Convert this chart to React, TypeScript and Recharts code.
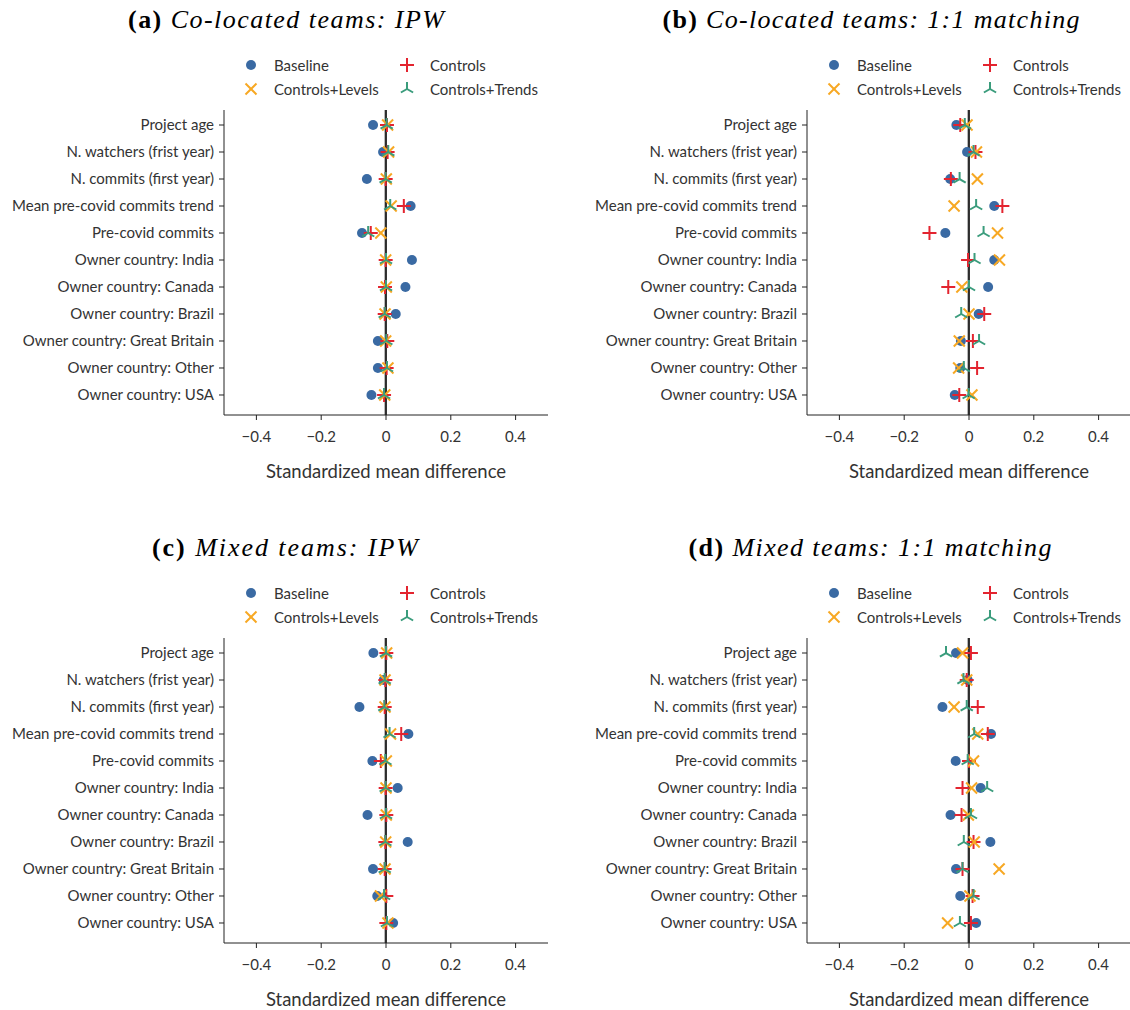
import React from 'react';
import { ScatterChart, Scatter, XAxis, YAxis, ReferenceLine } from 'recharts';

const CATEGORIES = [
  'Project age',
  'N. watchers (frist year)',
  'N. commits (first year)',
  'Mean pre-covid commits trend',
  'Pre-covid commits',
  'Owner country: India',
  'Owner country: Canada',
  'Owner country: Brazil',
  'Owner country: Great Britain',
  'Owner country: Other',
  'Owner country: USA',
];

const X_TICKS = [-0.4, -0.2, 0, 0.2, 0.4];
const SERIES_NAMES = ['Baseline', 'Controls', 'Controls+Levels', 'Controls+Trends'];

const A_BASELINE = [-0.040, -0.009, -0.059, 0.076, -0.074, 0.080, 0.060, 0.030, -0.025, -0.025, -0.045];
const A_CONTROLS = [0.003, 0.005, -0.001, 0.055, -0.047, -0.001, -0.003, -0.004, 0.004, 0.002, -0.006];
const A_LEVELS = [0.005, 0.008, 0.001, 0.016, -0.016, -0.001, 0.001, -0.003, -0.001, 0.006, -0.004];
const A_TRENDS = [0.002, 0.007, -0.001, 0.013, -0.055, 0.0, 0.0, -0.004, 0.001, 0.003, -0.006];

const B_BASELINE = [-0.039, -0.006, -0.058, 0.078, -0.073, 0.078, 0.059, 0.030, -0.025, -0.027, -0.044];
const B_CONTROLS = [-0.027, 0.020, -0.056, 0.103, -0.122, -0.003, -0.064, 0.047, 0.012, 0.025, -0.030];
const B_LEVELS = [-0.006, 0.023, 0.026, -0.046, 0.088, 0.094, -0.022, 0.000, -0.030, -0.032, 0.009];
const B_TRENDS = [-0.013, 0.014, -0.029, 0.022, 0.045, 0.017, 0.000, -0.024, 0.031, -0.016, -0.001];

const C_BASELINE = [-0.039, -0.007, -0.082, 0.069, -0.042, 0.036, -0.057, 0.067, -0.040, -0.027, 0.022];
const C_CONTROLS = [0.001, -0.002, -0.004, 0.047, -0.016, -0.001, 0.001, -0.002, -0.004, 0.001, 0.001];
const C_LEVELS = [0.002, -0.003, -0.003, 0.014, 0.001, 0.0, 0.001, -0.001, -0.003, -0.017, 0.006];
const C_TRENDS = [0.0, -0.004, -0.005, 0.011, -0.002, -0.001, 0.0, -0.002, -0.004, -0.006, 0.003];

const D_BASELINE = [-0.040, -0.004, -0.082, 0.068, -0.041, 0.036, -0.057, 0.066, -0.040, -0.027, 0.022];
const D_CONTROLS = [0.006, -0.007, 0.027, 0.058, 0.0, -0.020, -0.023, 0.014, -0.020, 0.011, 0.006];
const D_LEVELS = [-0.020, -0.007, -0.046, 0.027, 0.014, 0.008, -0.002, 0.016, 0.093, 0.003, -0.066];
const D_TRENDS = [-0.071, -0.017, -0.007, 0.016, -0.004, 0.056, 0.006, -0.016, -0.020, 0.014, -0.028];

const COLORS = {
  baseline: '#3a6aa3',
  controls: '#e3242f',
  levels: '#f7a823',
  trends: '#3a9c7c',
};

const FONT = 'Lato, "Noto Sans", sans-serif';
const TEXT = '#333333';
const AXIS = '#222222';

const toPoints = (vals: number[]) => vals.map((v, i) => ({ x: v, y: i }));

const Dot = (p: any) => <circle cx={p.cx} cy={p.cy} r={5} fill={COLORS.baseline} />;
const Plus = (p: any) => (
  <g stroke={COLORS.controls} strokeWidth={2}>
    <line x1={p.cx - 7} y1={p.cy} x2={p.cx + 7} y2={p.cy} />
    <line x1={p.cx} y1={p.cy - 7} x2={p.cx} y2={p.cy + 7} />
  </g>
);
const Cross = (p: any) => (
  <g stroke={COLORS.levels} strokeWidth={2}>
    <line x1={p.cx - 5.5} y1={p.cy - 5.5} x2={p.cx + 5.5} y2={p.cy + 5.5} />
    <line x1={p.cx - 5.5} y1={p.cy + 5.5} x2={p.cx + 5.5} y2={p.cy - 5.5} />
  </g>
);
const Tri = (p: any) => (
  <g stroke={COLORS.trends} strokeWidth={2}>
    <line x1={p.cx} y1={p.cy} x2={p.cx} y2={p.cy - 7} />
    <line x1={p.cx} y1={p.cy} x2={p.cx - 6.1} y2={p.cy + 3.5} />
    <line x1={p.cx} y1={p.cy} x2={p.cx + 6.1} y2={p.cy + 3.5} />
  </g>
);

const fmtX = (v: number) => (v === 0 ? '0' : v.toFixed(1).replace('-', '\u2212'));

type PanelProps = {
  left: number;
  top: number;
  width: number;
  marginRight: number;
  baseline: number[];
  controls: number[];
  levels: number[];
  trends: number[];
};

const Panel = ({ left, top, width, marginRight, baseline, controls, levels, trends }: PanelProps) => (
  <div style={{ position: 'absolute', left, top }}>
    <ScatterChart width={width} height={390} margin={{ top: 10, right: marginRight, bottom: 5, left: 10 }}>
      <XAxis
        type="number"
        dataKey="x"
        domain={[-0.5, 0.5]}
        ticks={X_TICKS}
        tickFormatter={fmtX}
        allowDataOverflow
        height={70}
        tickSize={5}
        tickMargin={11}
        stroke={AXIS}
        tick={{ fill: TEXT, fontSize: 15, fontFamily: FONT }}
        label={{ value: 'Standardized mean difference', position: 'insideBottom', offset: 7, fill: TEXT, fontSize: 18.5, fontFamily: FONT }}
      />
      <YAxis
        type="number"
        dataKey="y"
        domain={[-0.556, 10.741]}
        reversed
        allowDataOverflow
        ticks={CATEGORIES.map((_, i) => i)}
        tickFormatter={(v: number) => CATEGORIES[v] ?? ''}
        width={214}
        tickSize={5}
        tickMargin={5}
        interval={0}
        stroke={AXIS}
        tick={{ fill: TEXT, fontSize: 15, fontFamily: FONT }}
      />
      <ReferenceLine x={-0.002} stroke="#b0b0b0" strokeWidth={2.5} />
      <ReferenceLine x={0} stroke="#000000" strokeWidth={1.5} />
      <Scatter name={SERIES_NAMES[0]} data={toPoints(baseline)} shape={Dot} isAnimationActive={false} />
      <Scatter name={SERIES_NAMES[1]} data={toPoints(controls)} shape={Plus} isAnimationActive={false} />
      <Scatter name={SERIES_NAMES[2]} data={toPoints(levels)} shape={Cross} isAnimationActive={false} />
      <Scatter name={SERIES_NAMES[3]} data={toPoints(trends)} shape={Tri} isAnimationActive={false} />
    </ScatterChart>
  </div>
);

const LegendBox = ({ plotLeft, top }: { plotLeft: number; top: number }) => {
  const items = [
    { name: SERIES_NAMES[0], Shape: Dot, dx: 27, dy: 0 },
    { name: SERIES_NAMES[1], Shape: Plus, dx: 183, dy: 0 },
    { name: SERIES_NAMES[2], Shape: Cross, dx: 27, dy: 24 },
    { name: SERIES_NAMES[3], Shape: Tri, dx: 183, dy: 24 },
  ];
  return (
    <svg style={{ position: 'absolute', left: plotLeft, top: top - 14 }} width={330} height={54}>
      {items.map(({ name, Shape, dx, dy }) => (
        <g key={name}>
          <Shape cx={dx} cy={14 + dy} />
          <text x={dx + 23} y={14 + dy} dominantBaseline="central" fill={TEXT} fontSize={15} fontFamily={FONT}>
            {name}
          </text>
        </g>
      ))}
    </svg>
  );
};

const Title = ({ cx, y, tag, text, w }: { cx: number; y: number; tag: string; text: string; w: number }) => (
  <svg style={{ position: 'absolute', left: cx - 250, top: y - 22 }} width={500} height={44}>
    <text
      x={250 - w / 2}
      y={30}
      textLength={w}
      lengthAdjust="spacing"
      fontSize={26}
      fontFamily='"Liberation Serif", serif'
      fill="#000"
    >
      <tspan fontWeight="bold">{tag}</tspan>
      <tspan fontStyle="italic">{'\u00a0' + text}</tspan>
    </text>
  </svg>
);

export default function App() {
  return (
    <div style={{ position: 'absolute', left: 0, top: 0, width: 1130, height: 1010, overflow: 'hidden', background: '#fff' }}>
      <Title cx={286} y={20} tag="(a)" text="Co-located teams: IPW" w={316} />
      <Title cx={871} y={20} tag="(b)" text="Co-located teams: 1:1 matching" w={417} />
      <Title cx={285} y={548} tag="(c)" text="Mixed teams: IPW" w={266} />
      <Title cx={870} y={548} tag="(d)" text="Mixed teams: 1:1 matching" w={363} />
      <LegendBox plotLeft={224} top={65} />
      <LegendBox plotLeft={807} top={65} />
      <LegendBox plotLeft={224} top={593} />
      <LegendBox plotLeft={807} top={593} />
      <Panel left={0} top={100} width={560} marginRight={12} baseline={A_BASELINE} controls={A_CONTROLS} levels={A_LEVELS} trends={A_TRENDS} />
      <Panel left={583} top={100} width={548} marginRight={0} baseline={B_BASELINE} controls={B_CONTROLS} levels={B_LEVELS} trends={B_TRENDS} />
      <Panel left={0} top={628} width={560} marginRight={12} baseline={C_BASELINE} controls={C_CONTROLS} levels={C_LEVELS} trends={C_TRENDS} />
      <Panel left={583} top={628} width={548} marginRight={0} baseline={D_BASELINE} controls={D_CONTROLS} levels={D_LEVELS} trends={D_TRENDS} />
    </div>
  );
}
